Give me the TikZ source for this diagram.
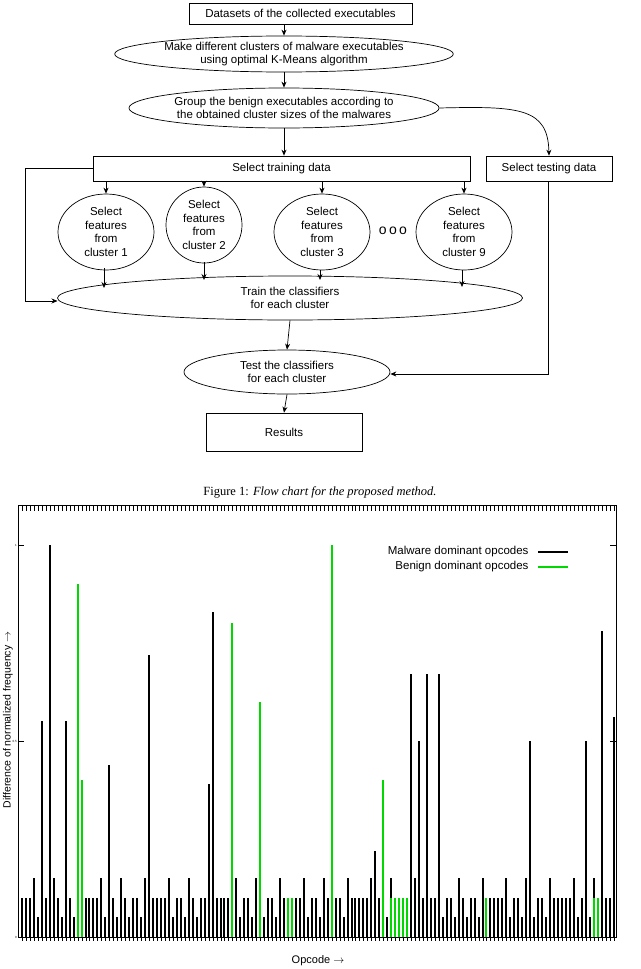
\documentclass[tikz,border=0pt]{standalone}
\usepackage{fontspec}
\setmainfont{Liberation Serif}
\setsansfont{Liberation Sans}
\usetikzlibrary{shapes.geometric,arrows.meta}
\begin{document}
\begin{tikzpicture}[x=1pt,y=-1pt,
  box/.style={draw,rectangle,font=\sffamily\fontsize{11.5}{13}\selectfont,align=center,inner sep=0pt,line width=0.7pt},
  ell/.style={draw,ellipse,font=\sffamily\fontsize{11.5}{13.5}\selectfont,align=center,inner sep=0pt,line width=0.7pt},
  arr/.style={-{Stealth[length=6pt,width=5pt]},line width=0.7pt},
  bar/.style={line width=1.5pt}]
\useasboundingbox (0,0) rectangle (640,969);
% flowchart
\node[box,minimum width=223pt,minimum height=21pt] (ds) at (300.5,13.5) {Datasets of the collected executables};
\node[ell,minimum width=324pt,minimum height=36pt] (mk) at (284,54) {Make different clusters of malware executables\\using optimal K-Means algorithm};
\node[ell,minimum width=272pt,minimum height=40pt] (gr) at (284,108) {Group the benign executables according to\\the obtained cluster sizes of the malwares};
\node[box,minimum width=377pt,minimum height=25pt] (tr) at (281.5,168.5) {Select training data};
\node[box,minimum width=126pt,minimum height=25pt] (te) at (549,168.5) {Select testing data};
\node[ell,minimum width=96pt,minimum height=76pt] (c1) at (106,232) {Select\\features\\from\\cluster 1};
\node[ell,minimum width=76pt,minimum height=76pt] (c2) at (204,225) {Select\\features\\from\\cluster 2};
\node[ell,minimum width=96pt,minimum height=76pt] (c3) at (322,232) {Select\\features\\from\\cluster 3};
\node[ell,minimum width=96pt,minimum height=76pt] (c9) at (464,232) {Select\\features\\from\\cluster 9};
\node[font=\sffamily\fontsize{14}{14}\selectfont] (dots) at (393,231) {o\,o\,o};
\node[ell,minimum width=465pt,minimum height=44pt] (trn) at (290,298) {Train the classifiers\\for each cluster};
\node[ell,minimum width=206pt,minimum height=44pt] (tst) at (287,372) {Test the classifiers\\for each cluster};
\node[box,minimum width=156pt,minimum height=38pt] (res) at (284,432) {Results};
\draw[arr] (ds.south -| mk.north) -- (mk.north);
\draw[arr] (mk.south) -- (gr.north);
\draw[arr] (gr.south) -- (gr.south |- tr.north);
\draw[arr] (gr.east) .. controls (520,106) and (548,108) .. (te.north);
\foreach \n/\x in {c1/106,c2/204,c3/322,c9/464}{
  \draw[arr] (\x,181) -- (\n.north);
}
\coordinate (b1) at (104,268); \coordinate (b2) at (204,262); \coordinate (b3) at (320,270); \coordinate (b9) at (462,270);
\draw[arr] (b1) -- (104,288);
\draw[arr] (b2) -- (204,280);
\draw[arr] (b3) -- (320,280);
\draw[arr] (b9) -- (462,287);
\coordinate (l1) at (25,168.5); \coordinate (l2) at (25,301);
\draw[arr] (tr.west) -- (l1) -- (l2) -- (57.5,301);
\draw[arr] (trn.south) -- (tst.north);
\coordinate (r1) at (548,374);
\draw[arr] (te.south -| r1) -- (r1) -- (tst.east |- r1);
\draw[arr] (tst.south) -- (res.north);
\node[font=\fontsize{12.5}{14}\selectfont] (cap) at (320,492) {Figure 1: \textit{Flow chart for the proposed method.}};
% chart
\draw[line width=1pt] (18,505) rectangle (616,937);
\foreach \i in {0,...,149}{
  \pgfmathsetmacro{\xx}{round(22+\i*3.97)}
  \draw[line width=0.5pt] (\xx,505) -- (\xx,511);
  \draw[line width=0.5pt] (\xx,937) -- (\xx,941);
  \pgfmathsetmacro{\hh}{{0.1,0.1,0.1,0.15,0.05,0.1,0.1,0.05,0.15,0.1,0.05,0.1,0.1,0.05,0.15,0.1,0.1}[mod(\i,17)]}
  \draw[bar] (\xx,937) -- (\xx,937-\hh*392);
}
\foreach \i/\h in {5/0.55,7/1.0,11/0.55,22/0.44,32/0.72,47/0.39,48/0.83,89/0.22,98/0.67,100/0.5,102/0.67,105/0.67,128/0.5,142/0.5,146/0.78,149/0.56}{
  \pgfmathsetmacro{\xx}{round(22+\i*3.97)}
  \draw[bar] (\xx,937) -- (\xx,937-\h*392);
}
\foreach \i/\h in {14/0.9,15/0.4,53/0.8,60/0.6,67/0.1,68/0.1,78/1.0,91/0.4,93/0.1,94/0.1,95/0.1,96/0.1,97/0.1,117/0.1,144/0.1,145/0.1}{
  \pgfmathsetmacro{\xx}{round(22+\i*3.97)}
  \draw[bar,green!85!black] (\xx,937) -- (\xx,937-\h*392);
}
\foreach \y/\t in {545/1,741/0.5,937/0}{
  \draw[line width=0.5pt] (18,\y) -- (24,\y) (616,\y) -- (610,\y);
  \node[font=\sffamily\fontsize{3}{3}\selectfont,anchor=east,inner sep=1pt] at (18,\y) {\t};
}
\node[font=\sffamily\fontsize{11.5}{13}\selectfont,anchor=east] (lg1) at (532,552) {Malware dominant opcodes};
\node[font=\sffamily\fontsize{11.5}{13}\selectfont,anchor=east] (lg2) at (532,567) {Benign dominant opcodes};
\draw[line width=1.5pt] (lg1.east)++(6,0) -- ++(30,0);
\draw[line width=1.5pt,green!85!black] (lg2.east)++(6,0) -- ++(30,0);
\node[font=\sffamily\fontsize{10.5}{12}\selectfont,rotate=90] (yl) at (8,720) {Difference of normalized frequency $\rightarrow$};
\node[font=\sffamily\fontsize{11}{12}\selectfont] (xl) at (318,961) {Opcode $\rightarrow$};
\end{tikzpicture}
\end{document}
